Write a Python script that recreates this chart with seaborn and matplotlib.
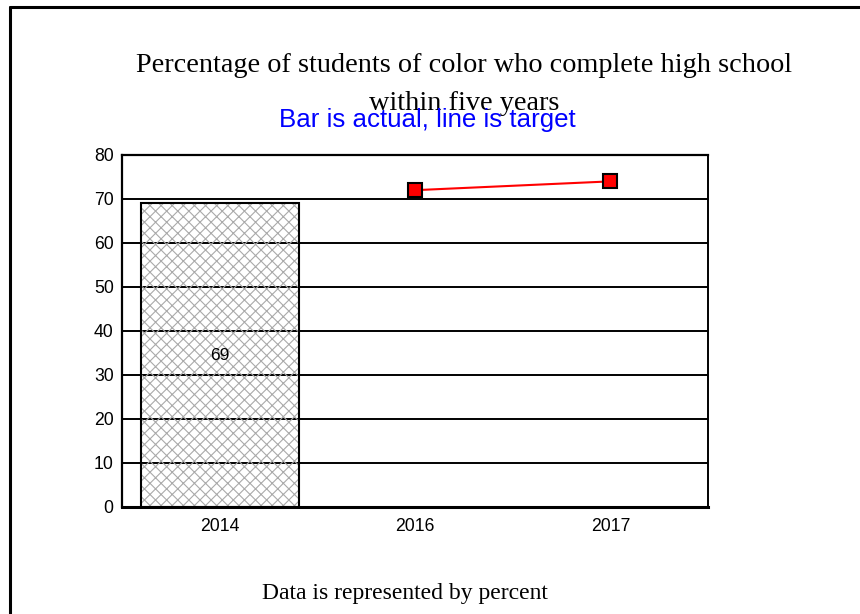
import matplotlib
matplotlib.use("Agg")
import matplotlib.pyplot as plt
import seaborn as sns
from matplotlib.patches import Rectangle
from matplotlib.lines import Line2D

# --- Data ---
years = ["2014", "2016", "2017"]
actual_years = ["2014"]
actual_values = [69]
target_years = ["2016", "2017"]
target_values = [72, 74]

sns.set_style("white")
plt.rcParams["font.family"] = ["Liberation Sans", "DejaVu Sans"]
plt.rcParams["text.color"] = "black"
plt.rcParams["hatch.linewidth"] = 0.8

fig = plt.figure(figsize=(8.6, 6.14), dpi=100)
ax = fig.add_axes([0.1419, 0.1743, 0.6814, 0.5733])

# --- Actual (bar) ---
sns.barplot(x=actual_years, y=actual_values, order=years, width=0.81,
            color="white", ax=ax)
bar_patches = list(ax.patches)
for p in bar_patches:
    p.set_facecolor("none")
    p.set_edgecolor("#aaaaaa")
    p.set_hatch("xxx")
    p.set_linewidth(0)
    p.set_zorder(2)
    ax.add_patch(Rectangle((p.get_x(), p.get_y()), p.get_width(), p.get_height(),
                           fill=False, edgecolor="black", linewidth=1.5, zorder=3))
ax.bar_label(ax.containers[0], label_type="center", fontsize=12.5, color="black")

# --- Target (line) ---
sns.pointplot(x=target_years, y=target_values, order=years, color="red",
              markers="s", markersize=9.5, markeredgecolor="black",
              markeredgewidth=1.5, linewidth=1.5, ax=ax, zorder=4)

# --- Axes styling ---
ax.set_ylim(0, 80)
ax.set_yticks(range(0, 81, 10))
ax.set_xlim(-0.5, 2.5)
ax.set_axisbelow(True)
ax.yaxis.grid(True, color="black", linewidth=1.4)
ax.xaxis.grid(False)
ax.tick_params(axis="both", length=0, labelsize=12.7, colors="black")
ax.tick_params(axis="x", pad=8)
ax.tick_params(axis="y", pad=6)
ax.set_xlabel("")
ax.set_ylabel("")
for side, lw in [("left", 1.6), ("bottom", 2.2), ("top", 1.6), ("right", 1.4)]:
    ax.spines[side].set_visible(True)
    ax.spines[side].set_color("black")
    ax.spines[side].set_linewidth(lw)

# --- Titles ---
fig.text(0.540, 1 - 65 / 614, "Percentage of students of color who complete high school",
         ha="center", va="center", fontsize=20.3, family="Liberation Serif")
fig.text(0.540, 1 - 103 / 614, "within five years",
         ha="center", va="center", fontsize=20.3, family="Liberation Serif")
fig.text(0.497, 1 - 120 / 614, "Bar is actual, line is target",
         ha="center", va="center", fontsize=18.6, color="blue")
fig.text(0.471, 1 - 593 / 614, "Data is represented by percent",
         ha="center", va="center", fontsize=17, family="Liberation Serif")

# --- Slide frame ---
fig.add_artist(Line2D([10 / 860, 10 / 860], [0, 1 - 7 / 614], color="black", linewidth=2.2))
fig.add_artist(Line2D([10 / 860, 1], [1 - 7 / 614, 1 - 7 / 614], color="black", linewidth=2.2))

fig.savefig("out.png", dpi=100)
